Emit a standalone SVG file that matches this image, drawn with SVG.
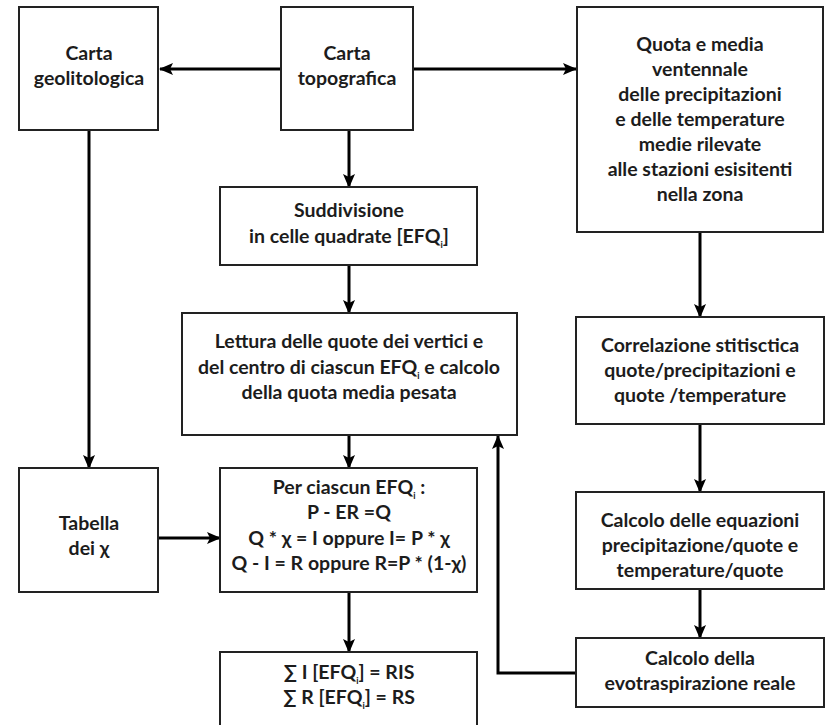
<svg xmlns="http://www.w3.org/2000/svg" width="825" height="725" viewBox="0 0 825 725">
  <style>
    .box { fill: #ffffff; stroke: #222222; stroke-width: 2; }
    .lbl { font-family: Lato, "Liberation Sans", sans-serif; font-weight: bold; font-size: 19.5px; fill: #1c1c1c; text-anchor: middle; }
    .sub { font-size: 9px; }
    .edge { fill: none; stroke: #000000; stroke-width: 3; }
  </style>
  <defs>
    <marker id="arrow" viewBox="0 0 14 12" refX="13" refY="6" markerWidth="14" markerHeight="12" markerUnits="userSpaceOnUse" orient="auto">
      <path d="M0,0 L14,6 L0,12 L3,6 z" fill="#000000"/>
    </marker>
  </defs>
  <rect width="825" height="725" fill="#ffffff"/>

  <g id="connectors">
    <line class="edge" x1="281" y1="69" x2="160" y2="69" marker-end="url(#arrow)"/>
    <line class="edge" x1="413" y1="69" x2="576" y2="69" marker-end="url(#arrow)"/>
    <line class="edge" x1="349" y1="130" x2="349" y2="187" marker-end="url(#arrow)"/>
    <line class="edge" x1="349" y1="265" x2="349" y2="313" marker-end="url(#arrow)"/>
    <line class="edge" x1="349" y1="435" x2="349" y2="468" marker-end="url(#arrow)"/>
    <line class="edge" x1="349" y1="592" x2="349" y2="652" marker-end="url(#arrow)"/>
    <line class="edge" x1="89" y1="130" x2="89" y2="468" marker-end="url(#arrow)"/>
    <line class="edge" x1="158" y1="538" x2="220" y2="538" marker-end="url(#arrow)"/>
    <line class="edge" x1="700" y1="232" x2="700" y2="317" marker-end="url(#arrow)"/>
    <line class="edge" x1="700" y1="424" x2="700" y2="492" marker-end="url(#arrow)"/>
    <line class="edge" x1="700" y1="589" x2="700" y2="638" marker-end="url(#arrow)"/>
    <polyline class="edge" points="576,673 498,673 498,436" marker-end="url(#arrow)"/>
  </g>

  <g id="carta-geolitologica">
    <rect class="box" x="19" y="7" width="139" height="123"/>
    <text class="lbl" x="89" y="60">Carta</text>
    <text class="lbl" x="89" y="85">geolitologica</text>
  </g>

  <g id="carta-topografica">
    <rect class="box" x="281" y="7" width="132" height="123"/>
    <text class="lbl" x="347" y="60">Carta</text>
    <text class="lbl" x="347" y="85">topografica</text>
  </g>

  <g id="quota-media">
    <rect class="box" x="577" y="7" width="246" height="225"/>
    <text class="lbl" x="700" y="51">Quota e media</text>
    <text class="lbl" x="700" y="76">ventennale</text>
    <text class="lbl" x="700" y="101">delle precipitazioni</text>
    <text class="lbl" x="700" y="126">e delle temperature</text>
    <text class="lbl" x="700" y="151">medie rilevate</text>
    <text class="lbl" x="700" y="176">alle stazioni esisitenti</text>
    <text class="lbl" x="700" y="201">nella zona</text>
  </g>

  <g id="suddivisione">
    <rect class="box" x="220" y="187" width="257" height="78"/>
    <text class="lbl" x="349" y="217">Suddivisione</text>
    <text class="lbl" x="349" y="243">in celle quadrate [EFQ<tspan class="sub" dy="5">i</tspan><tspan dy="-5">]</tspan></text>
  </g>

  <g id="lettura-quote">
    <rect class="box" x="182" y="313" width="335" height="122"/>
    <text class="lbl" x="349" y="348">Lettura delle quote dei vertici e</text>
    <text class="lbl" x="349" y="374">del centro di ciascun EFQ<tspan class="sub" dy="5">i</tspan><tspan dy="-5"> e calcolo</tspan></text>
    <text class="lbl" x="349" y="399">della quota media pesata</text>
  </g>

  <g id="tabella-chi">
    <rect class="box" x="19" y="468" width="139" height="124"/>
    <text class="lbl" x="89" y="530">Tabella</text>
    <text class="lbl" x="89" y="555">dei χ</text>
  </g>

  <g id="bilancio-efq">
    <rect class="box" x="220" y="468" width="257" height="124"/>
    <text class="lbl" x="349" y="494">Per ciascun EFQ<tspan class="sub" dy="5">i</tspan><tspan dy="-5"> :</tspan></text>
    <text class="lbl" x="349" y="519">P - ER =Q</text>
    <text class="lbl" x="349" y="545">Q * χ = I oppure I= P * χ</text>
    <text class="lbl" x="349" y="570">Q - I = R oppure R=P * (1-χ)</text>
  </g>

  <g id="sommatorie">
    <rect class="box" x="220" y="652" width="257" height="80"/>
    <text class="lbl" x="349" y="679">∑ I [EFQ<tspan class="sub" dy="5">i</tspan><tspan dy="-5">] = RIS</tspan></text>
    <text class="lbl" x="349" y="704">∑ R [EFQ<tspan class="sub" dy="5">i</tspan><tspan dy="-5">] = RS</tspan></text>
  </g>

  <g id="correlazione">
    <rect class="box" x="576" y="317" width="248" height="107"/>
    <text class="lbl" x="700" y="352">Correlazione stitisctica</text>
    <text class="lbl" x="700" y="377">quote/precipitazioni e</text>
    <text class="lbl" x="700" y="402">quote /temperature</text>
  </g>

  <g id="calcolo-equazioni">
    <rect class="box" x="576" y="492" width="248" height="97"/>
    <text class="lbl" x="700" y="527">Calcolo delle equazioni</text>
    <text class="lbl" x="700" y="552">precipitazione/quote e</text>
    <text class="lbl" x="700" y="577">temperature/quote</text>
  </g>

  <g id="evotraspirazione">
    <rect class="box" x="576" y="638" width="248" height="69"/>
    <text class="lbl" x="700" y="665">Calcolo della</text>
    <text class="lbl" x="700" y="690">evotraspirazione reale</text>
  </g>
</svg>
